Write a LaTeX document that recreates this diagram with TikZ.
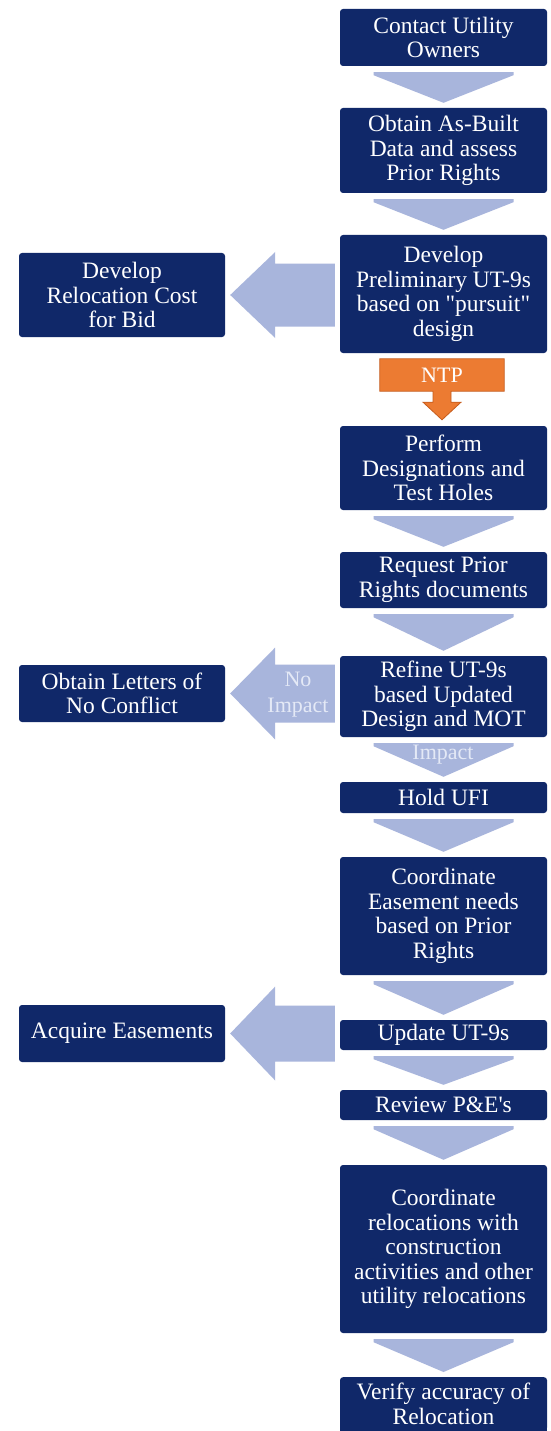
\documentclass[tikz,border=0pt]{standalone}
\usepackage{fontspec}
\setmainfont{Liberation Serif}[Ligatures=TeXOff]
\usetikzlibrary{calc}
\definecolor{navy}{RGB}{16,40,105}
\definecolor{arrblue}{RGB}{168,181,220}
\definecolor{ntporange}{RGB}{236,123,50}
\definecolor{ntpedge}{RGB}{198,92,28}
\definecolor{lbltxt}{RGB}{228,233,246}
\newcommand\dnarrow[2]{%
  \fill[arrblue] ($(#1.south)+(-70pt,-6pt)$) -- ($(#1.south)+(70pt,-6pt)$) -- ($(#1.south)+(70pt,-9pt)$)
    -- ($(#2.north)+(0pt,5pt)$) -- ($(#1.south)+(-70pt,-9pt)$) -- cycle;}
\newcommand\lfarrow[4]{%
  \fill[arrblue] let \p1=(#1.east), \p2=(#2.west) in
    (\x1+5pt,\y1) -- (\x1+50pt,\y1+#3pt) -- (\x1+50pt,\y1+#4pt) -- (\x2-5pt,\y1+#4pt)
    -- (\x2-5pt,\y1-#4pt) -- (\x1+50pt,\y1-#4pt) -- (\x1+50pt,\y1-#3pt) -- cycle;}
\begin{document}
\begin{tikzpicture}[x=1pt,y=-1pt,
  box/.style={fill=navy, rounded corners=3pt, text=white, align=center, inner sep=2pt,
    font=\fontsize{23.5}{24.5}\selectfont},
  mainbox/.style={box, minimum width=207pt},
  sidebox/.style={box, minimum width=206pt},
  lbl/.style={text=lbltxt, align=center, inner sep=0pt, font=\fontsize{22}{26}\selectfont}]
\fill[white] (0,0) rectangle (550,1431);
\useasboundingbox (0,0) rectangle (550,1431);

% main column
\node[mainbox, minimum height=57pt]  (b1)  at (443.5,37.5)  {Contact Utility\\Owners};
\node[mainbox, minimum height=85pt]  (b2)  at (443.5,150.5) {Obtain As-Built\\Data and assess\\Prior Rights};
\node[mainbox, minimum height=118pt] (b3)  at (443.5,294)   {Develop\\Preliminary UT-9s\\based on "pursuit"\\design};
\node[mainbox, minimum height=84pt]  (b4)  at (443.5,468)   {Perform\\Designations and\\Test Holes};
\node[mainbox, minimum height=56pt]  (b5)  at (443.5,580)   {Request Prior\\Rights documents};
\node[mainbox, minimum height=81pt]  (b6)  at (443.5,696.5) {Refine UT-9s\\based Updated\\Design and MOT};
\node[mainbox, minimum height=31pt]  (b7)  at (443.5,797.5) {Hold UFI};
\node[mainbox, minimum height=118pt] (b8)  at (443.5,916)   {Coordinate\\Easement needs\\based on Prior\\Rights};
\node[mainbox, minimum height=30pt]  (b9)  at (443.5,1035)  {Update UT-9s};
\node[mainbox, minimum height=30pt]  (b10) at (443.5,1105)  {Review P\&E's};
\node[mainbox, minimum height=168pt] (b11) at (443.5,1249)  {Coordinate\\relocations with\\construction\\activities and other\\utility relocations};
\fill[navy] (340,1400) rectangle (547,1445);
\node[mainbox, anchor=north, inner ysep=6pt] (b12) at (443.5,1377) {Verify accuracy of\\Relocation};

% side column
\node[sidebox, minimum height=84pt] (l1) at (122,295)    {Develop\\Relocation Cost\\for Bid};
\node[sidebox, minimum height=57pt] (l2) at (122,693.5)  {Obtain Letters of\\No Conflict};
\node[sidebox, minimum height=57pt] (l3) at (122,1033.5) {Acquire Easements};

% down arrows
\dnarrow{b1}{b2}
\dnarrow{b2}{b3}
\dnarrow{b4}{b5}
\dnarrow{b5}{b6}
\dnarrow{b6}{b7}
\dnarrow{b7}{b8}
\dnarrow{b8}{b9}
\dnarrow{b9}{b10}
\dnarrow{b10}{b11}
\dnarrow{b11}{b12}
\node[lbl] (impact) at (443,755) {Impact};

% left arrows
\lfarrow{l1}{b3}{43}{31.5}
\lfarrow{l2}{b6}{46}{29}
\node[lbl] (noimpact) at (298,695) {No\\Impact};
\lfarrow{l3}{b9}{47}{28}

% NTP callout
\path node[minimum width=124pt, minimum height=32pt, inner sep=0pt] (ntp) at (442,375) {};
\filldraw[fill=ntporange, draw=ntpedge, line width=0.8pt]
  (ntp.north west) -- (ntp.north east) -- (ntp.south east)
  -- ($(ntp.south)+(9pt,0pt)$) -- ($(ntp.south)+(9pt,-11pt)$) -- ($(ntp.south)+(19pt,-11pt)$)
  -- ($(ntp.south |- b4.north)+(0pt,6pt)$)
  -- ($(ntp.south)+(-19pt,-11pt)$) -- ($(ntp.south)+(-9pt,-11pt)$) -- ($(ntp.south)+(-9pt,0pt)$)
  -- (ntp.south west) -- cycle;
\node[text=white, inner sep=0pt, font=\fontsize{22}{24}\selectfont] (ntptext) at (ntp.center) {NTP};
\end{tikzpicture}
\end{document}
